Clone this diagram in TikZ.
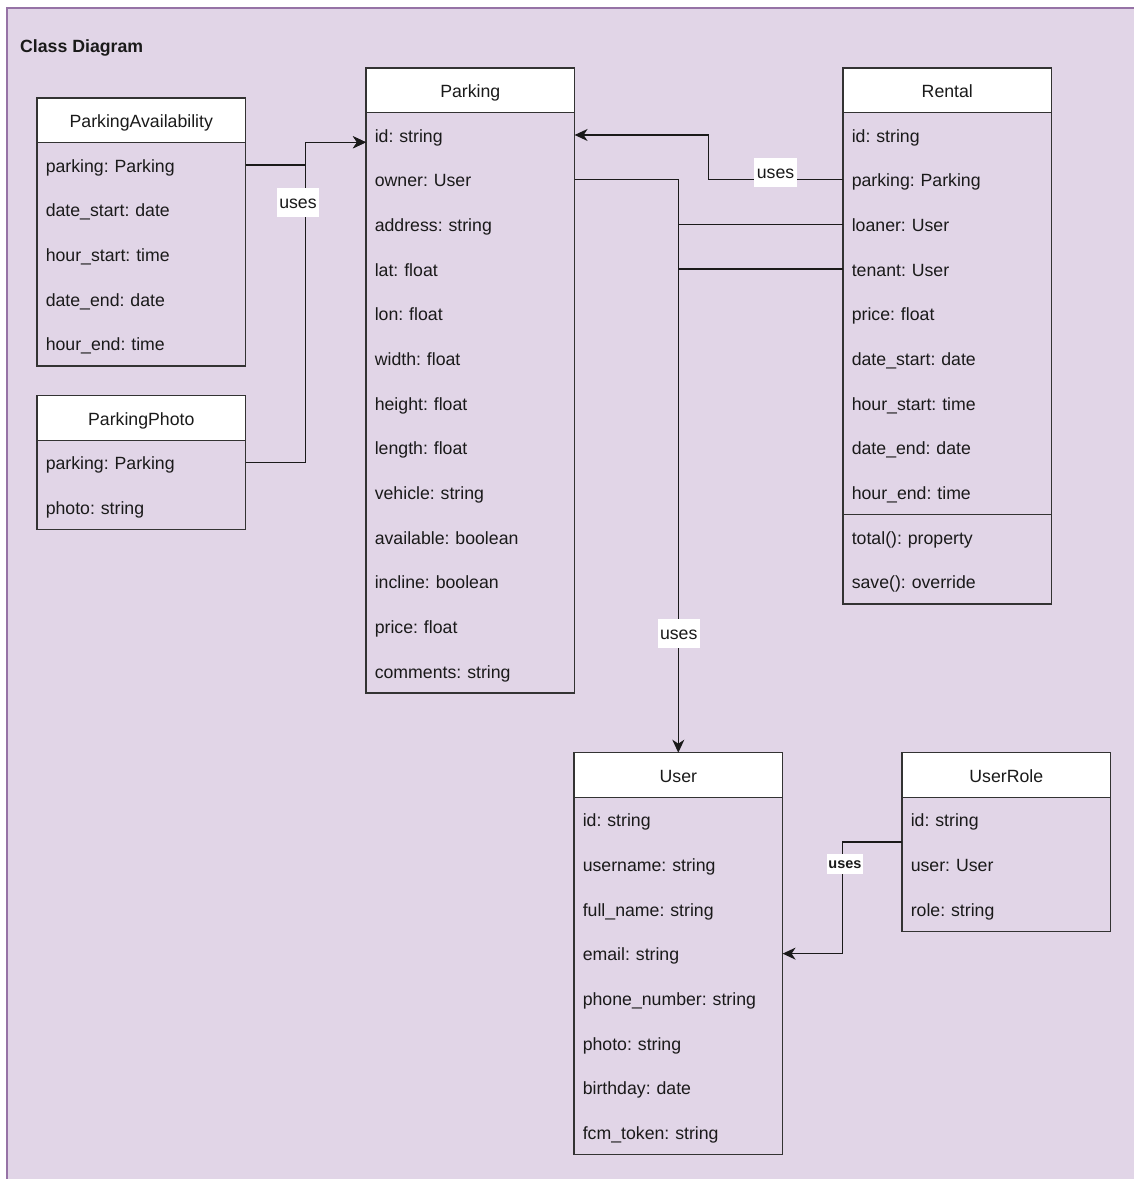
\documentclass[tikz,border=0pt]{standalone}
\usepackage{fontspec}
\setmainfont{Liberation Sans}
\usetikzlibrary{arrows.meta,calc}
\definecolor{bgfill}{HTML}{E1D5E7}
\definecolor{bgline}{HTML}{9673A6}
\definecolor{ink}{HTML}{1A1A1A}
\definecolor{boxline}{HTML}{333333}
\frenchspacing

\newcommand\fs{\fontsize{17.7}{21}\selectfont\frenchspacing}
\newcommand\umlclass[4]{%
  \node[hdr, anchor=north west] (#1) at (#2) {#3};
  \foreach \rowtext [count=\i] in {#4} {%
    \ifnum\i=1
      \node[rowbox, anchor=north] (#1-\i) at (#1.south) {\rowtext};
    \else
      \pgfmathtruncatemacro\j{\i-1}%
      \node[rowbox, anchor=north] (#1-\i) at (#1-\j.south) {\rowtext};
    \fi
    \xdef\lastrow{\i}%
  }
  \draw[boxedge] (#1.north west) rectangle (#1-\lastrow.south east);
}

\begin{document}
\begin{tikzpicture}[x=1pt,y=-1pt,
 hdr/.style={draw=boxline, line width=1.4pt, fill=white, minimum width=208.6pt, minimum height=44.65pt, inner sep=0pt, outer sep=0pt, text height=18pt, text depth=3.4pt, font=\fs, text=ink},
 rowbox/.style={minimum width=208.6pt, text width=191pt, minimum height=44.65pt, inner xsep=8.8pt, inner ysep=0pt, outer sep=0pt, text height=18pt, text depth=3.4pt, align=left, font=\fs, text=ink},
 boxedge/.style={draw=boxline, line width=1.4pt},
 conn/.style={draw=ink, line width=1.4pt},
 arr/.style={conn, -{Stealth[length=13pt,width=12pt,inset=4pt]}},
 lbl/.style={fill=white, inner xsep=2.5pt, inner ysep=0pt, minimum height=29pt, text height=15pt, text depth=3.4pt, font=\fs, text=ink},
 lblsmall/.style={fill=white, inner xsep=1.5pt, inner ysep=0pt, minimum height=20pt, text height=12pt, text depth=2.8pt, font=\fontsize{14.5}{16}\selectfont\bfseries, text=ink}]
\useasboundingbox (0,0) rectangle (1134,1179);
\clip (0,0) rectangle (1134,1179);
\fill[white] (0,0) rectangle (1134,1179);
\draw[fill=bgfill, draw=bgline, line width=1.5pt] (7,8) rectangle (1160,1200);

\node[anchor=base west, font=\fs\bfseries, text=ink, inner sep=0pt] (title) at (20,52.7) {Class Diagram};

\umlclass{pa}{37,98}{ParkingAvailability}{parking: Parking, date\_start: date, hour\_start: time, date\_end: date, hour\_end: time}
\umlclass{pp}{37,395.7}{ParkingPhoto}{parking: Parking, photo: string}
\umlclass{park}{366,68}{Parking}{id: string, owner: User, address: string, lat: float, lon: float, width: float, height: float, length: float, vehicle: string, available: boolean, incline: boolean, price: float, comments: string}
\umlclass{rent}{843,68}{Rental}{id: string, parking: Parking, loaner: User, tenant: User, price: float, date\_start: date, hour\_start: time, date\_end: date, hour\_end: time, total(): property, save(): override}
\draw[boxedge] (rent-9.south west) -- (rent-9.south east);
\umlclass{user}{574,752.7}{User}{id: string, username: string, full\_name: string, email: string, phone\_number: string, photo: string, birthday: date, fcm\_token: string}
\umlclass{ur}{902,752.7}{UserRole}{id: string, user: User, role: string}

\coordinate (parkin) at ($(park-1.west)+(0,7.3)$);
\draw[arr] (pa-1.east) -- ++(60,0) |- (parkin);
\draw[arr] (pp-1.east) -- ++(60,0) |- (parkin);
\node[lbl] (l1) at (298,202.5) {uses};

\draw[arr] (rent-2.west) -- ++(-134.7,0) |- (park-1.east);
\node[lbl] (l2) at (775.5,172.8) {uses};

\draw[arr] (park-2.east) -| (user.north);
\draw[conn] (rent-3.west) -- (rent-3.west -| user.north);
\draw[conn] (rent-4.west) -- (rent-4.west -| user.north);
\node[lbl] (l3) at (678.7,633.8) {uses};

\draw[arr] (ur-1.south west) -- ++(-59.7,0) |- (user-4.east);
\node[lblsmall] (l4) at (845,864.3) {uses};
\end{tikzpicture}
\end{document}
